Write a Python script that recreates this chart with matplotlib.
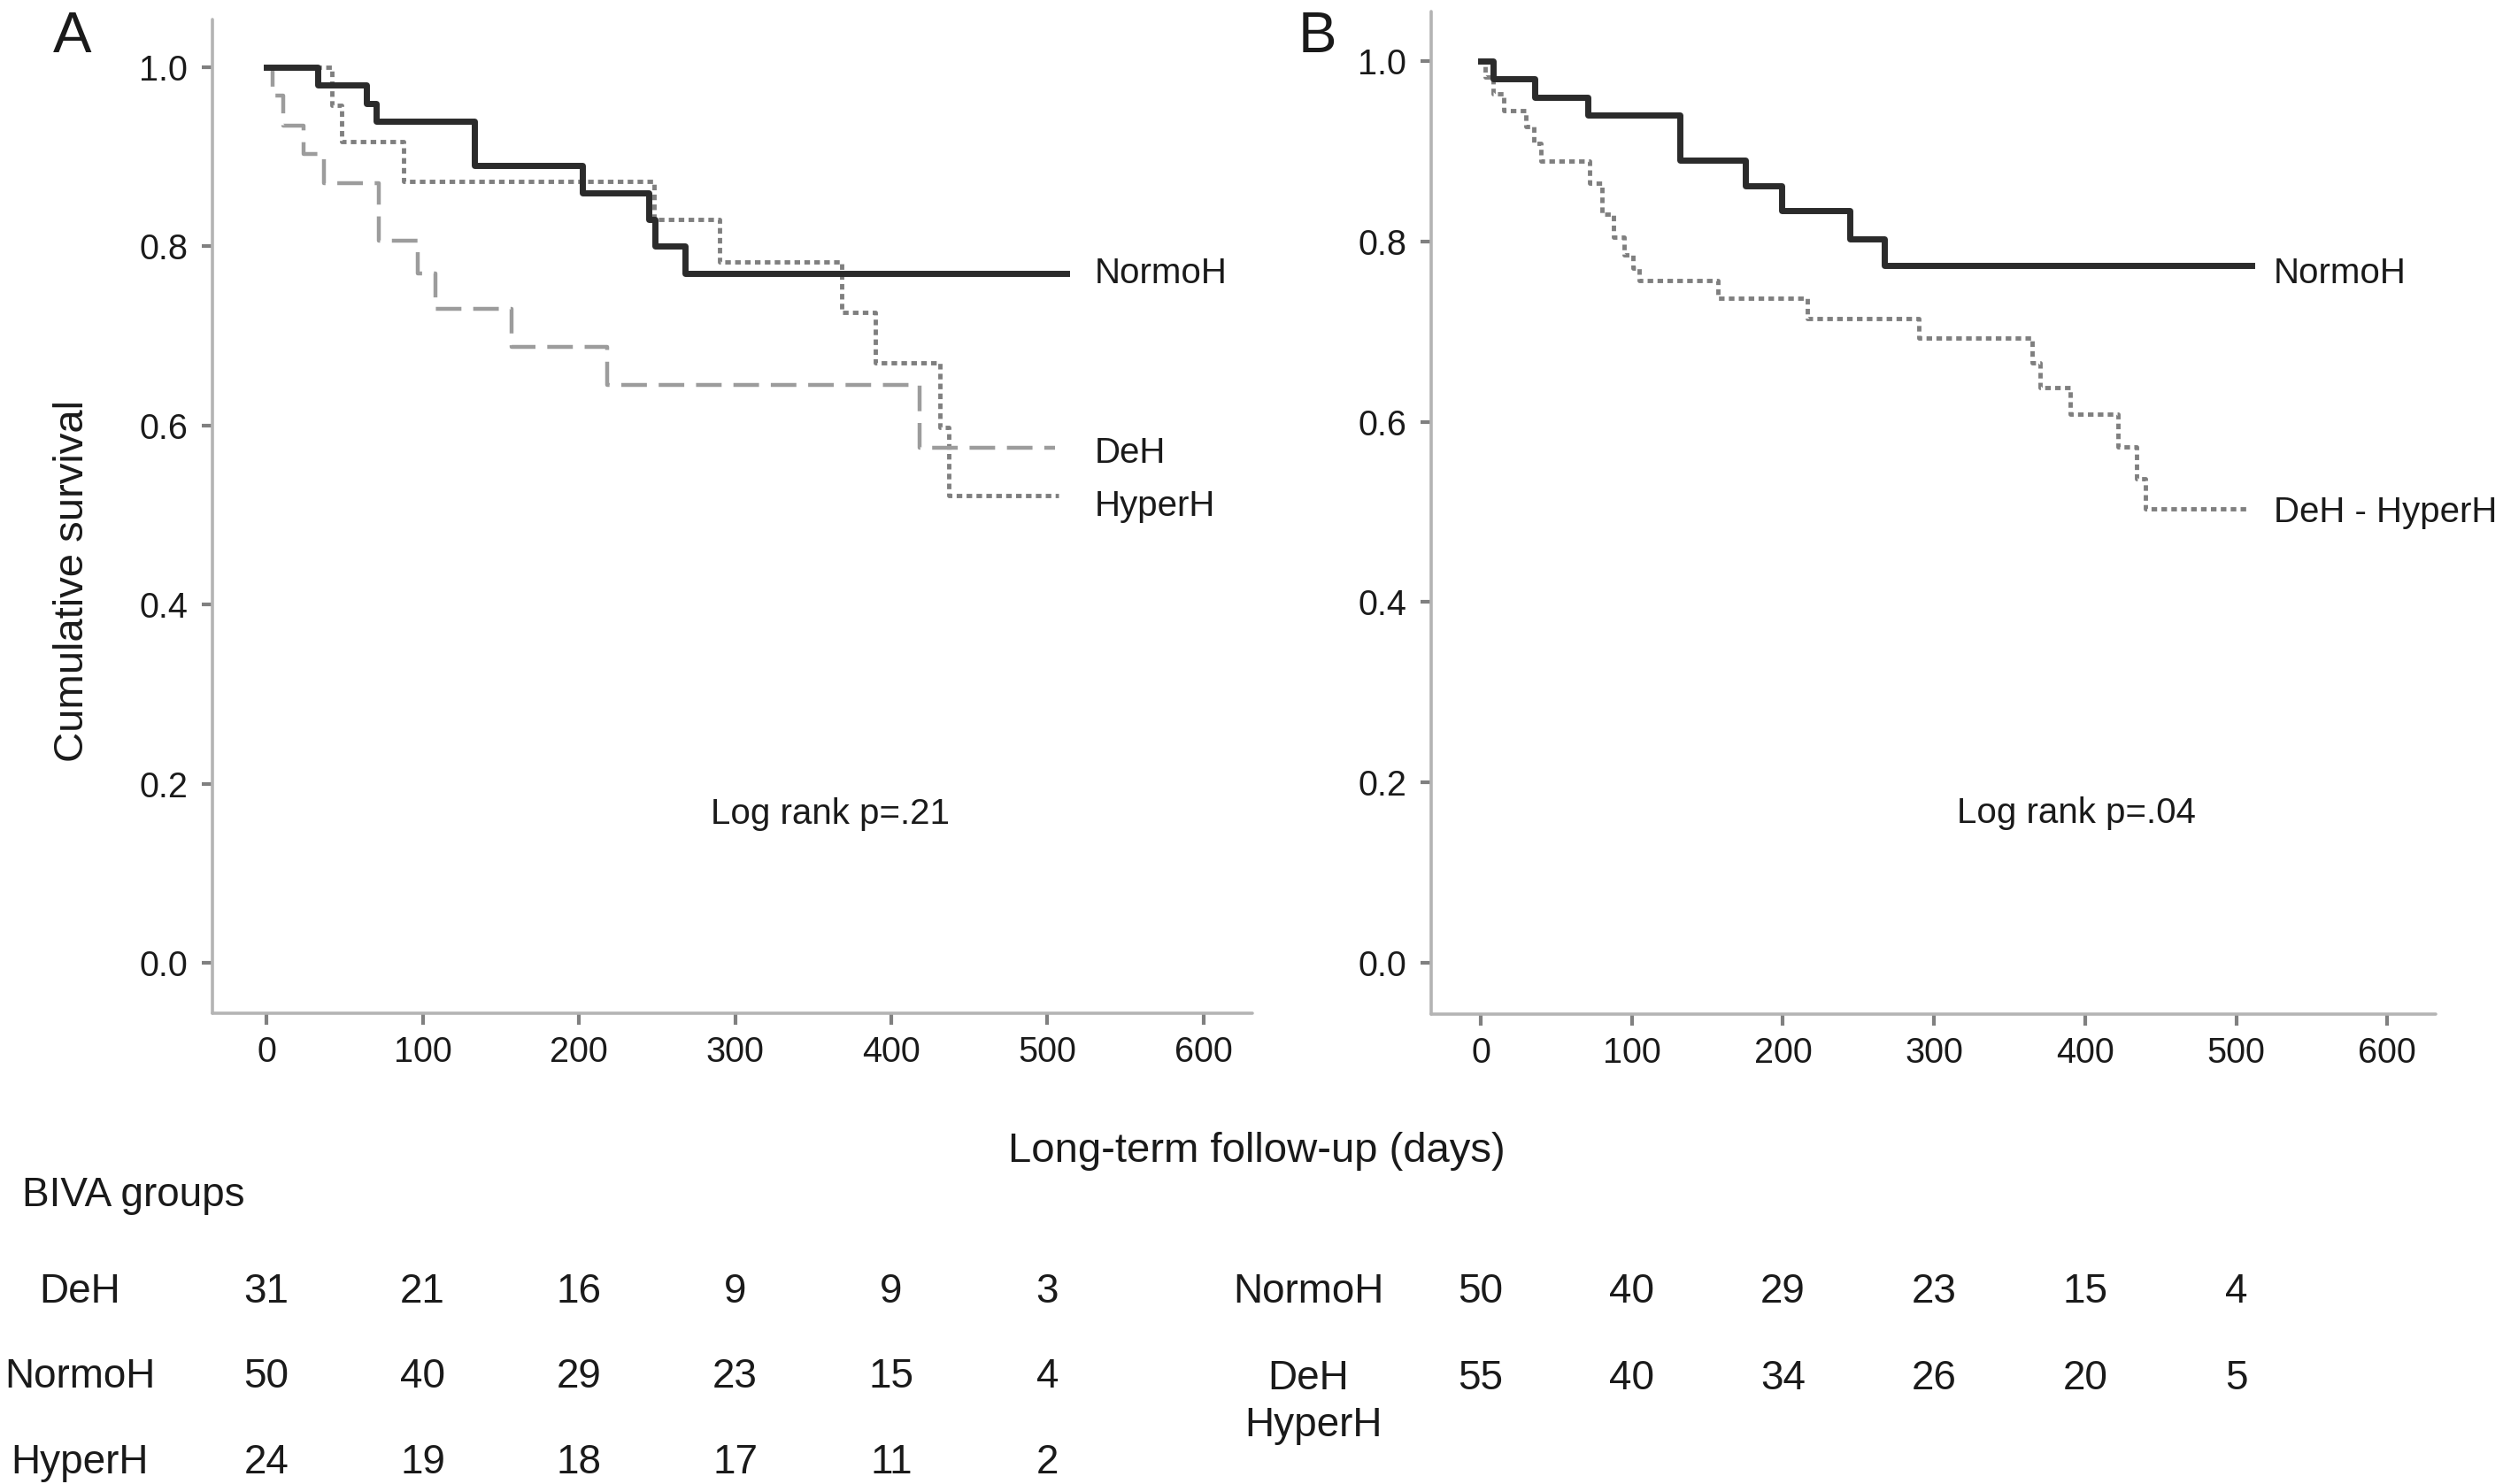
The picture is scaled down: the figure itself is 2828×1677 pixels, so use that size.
import matplotlib
matplotlib.use("Agg")
import matplotlib.pyplot as plt
import matplotlib.transforms as mtransforms

plt.rcParams['font.family'] = ['Liberation Sans', 'DejaVu Sans']

W, H = 2828, 1677  # размер картинки в пикселях

# панель A: кривые Каплана-Мейера (время, выживаемость)
a_normo_t = [0, 33, 64, 70, 133, 202, 245, 249, 268, 512]
a_normo_s = [1.0, 0.98, 0.96, 0.94, 0.89, 0.86, 0.83, 0.80, 0.77, 0.77]
a_deh_t = [0, 4, 11, 24, 37, 72, 97, 108, 157, 218, 418, 505]
a_deh_s = [1.0, 0.968, 0.935, 0.903, 0.871, 0.806, 0.77, 0.73, 0.688, 0.645, 0.575, 0.575]
a_hyper_t = [0, 42, 48, 88, 248, 290, 368, 390, 431, 437, 507]
a_hyper_s = [1.0, 0.958, 0.917, 0.873, 0.83, 0.783, 0.726, 0.67, 0.598, 0.522, 0.522]

# панель B
b_normo_t = [0, 8, 36, 71, 132, 175, 199, 244, 267, 510]
b_normo_s = [1.0, 0.98, 0.96, 0.94, 0.89, 0.862, 0.834, 0.803, 0.773, 0.773]
b_dh_t = [0, 3, 8, 15, 30, 35, 40, 72, 80, 88, 95, 101, 105, 157, 216, 290,
          365, 370, 390, 422, 434, 440, 507]
b_dh_s = [1.0, 0.982, 0.964, 0.945, 0.927, 0.909, 0.889, 0.865, 0.83, 0.805,
          0.785, 0.77, 0.757, 0.737, 0.714, 0.693, 0.665, 0.638, 0.608, 0.572,
          0.537, 0.503, 0.503]

# таблица числа пациентов под риском
risk_times = [0, 100, 200, 300, 400, 500]
a_rows = ['DeH', 'NormoH', 'HyperH']
a_risk = [[31, 21, 16, 9, 9, 3],
          [50, 40, 29, 23, 15, 4],
          [24, 19, 18, 17, 11, 2]]
b_rows = ['NormoH', 'DeH']
b_risk = [[50, 40, 29, 23, 15, 4],
          [55, 40, 34, 26, 20, 5]]

xticks = [0, 100, 200, 300, 400, 500, 600]
yticks = [0.0, 0.2, 0.4, 0.6, 0.8, 1.0]

fig = plt.figure(figsize=(W / 100, H / 100), dpi=100)

def fy(px):  # пиксель по вертикали -> доля фигуры
    return 1 - px / H

def setup(ax, xlim, ylim):
    ax.set_xlim(*xlim)
    ax.set_ylim(*ylim)
    for s in ['top', 'right']:
        ax.spines[s].set_visible(False)
    for s in ['left', 'bottom']:
        ax.spines[s].set_color('#b4b4b4')
        ax.spines[s].set_linewidth(2.6)
        ax.spines[s].set_capstyle('round')
    ax.set_xticks(xticks)
    ax.set_yticks(yticks)
    ax.set_yticklabels(['%.1f' % v for v in yticks])
    ax.tick_params(axis='both', direction='out', length=9, width=3,
                   color='#808080', labelsize=28.5, labelcolor='#1a1a1a')
    ax.tick_params(axis='x', pad=9)
    ax.tick_params(axis='y', pad=11)

axA = fig.add_axes([240 / W, fy(1145), (1415 - 240) / W, (1145 - 22) / H])
axB = fig.add_axes([1617 / W, fy(1146), (2752 - 1617) / W, (1146 - 13) / H])
setup(axA, (-34.6, 631.2), (-0.0563, 1.0534))
setup(axB, (-32.8, 632.1), (-0.0569, 1.055))

axA.step(a_hyper_t, a_hyper_s, where='post', color='#7f7f7f', lw=3.5,
         dashes=(1.3, 1.0), dash_capstyle='butt')
axA.step(a_deh_t, a_deh_s, where='post', color='#9c9c9c', lw=3.2,
         dashes=(6.5, 3))
axA.step(a_normo_t, a_normo_s, where='post', color='#2b2b2b', lw=5)

axB.step(b_dh_t, b_dh_s, where='post', color='#7f7f7f', lw=3.5,
         dashes=(1.3, 1.0), dash_capstyle='butt')
axB.step(b_normo_t, b_normo_s, where='post', color='#2b2b2b', lw=5)

lab = dict(fontsize=29, color='#1a1a1a', va='baseline', ha='left')
axA.text(530, 0.759, 'NormoH', **lab)
axA.text(530, 0.558, 'DeH', **lab)
axA.text(530, 0.499, 'HyperH', **lab)
axB.text(525, 0.754, 'NormoH', **lab)
axB.text(525, 0.489, 'DeH - HyperH', **lab)

axA.text(361, 0.155, 'Log rank p=.21', fontsize=29, color='#1a1a1a',
         ha='center', va='baseline')
axB.text(394, 0.155, 'Log rank p=.04', fontsize=29, color='#1a1a1a',
         ha='center', va='baseline')

# подписи панелей и осей
fig.text(82 / W, fy(59), 'A', fontsize=47, ha='center', va='baseline', color='#1a1a1a')
fig.text(1488 / W, fy(59), 'B', fontsize=47, ha='center', va='baseline', color='#1a1a1a')
fig.text(82 / W, fy(656), 'Cumulative survival', fontsize=34, rotation=90,
         ha='center', va='center', color='#1a1a1a')
fig.text(1420 / W, fy(1313), 'Long-term follow-up (days)', fontsize=34,
         ha='center', va='baseline', color='#1a1a1a')

# таблица под графиками
tsz = 33
fig.text(25 / W, fy(1363), 'BIVA groups', fontsize=tsz, ha='left', va='baseline', color='#1a1a1a')
trA = mtransforms.blended_transform_factory(axA.transData, fig.transFigure)
trB = mtransforms.blended_transform_factory(axB.transData, fig.transFigure)

a_base = [1472, 1568, 1665]
for i in range(len(a_rows)):
    fig.text(90 / W, fy(a_base[i]), a_rows[i], fontsize=tsz, ha='center',
             va='baseline', color='#1a1a1a')
    for j in range(len(risk_times)):
        axA.text(risk_times[j], fy(a_base[i]), str(a_risk[i][j]), transform=trA,
                 fontsize=tsz, ha='center', va='baseline', color='#1a1a1a')

b_base = [1472, 1570]
for i in range(len(b_rows)):
    fig.text(1478 / W, fy(b_base[i]), b_rows[i], fontsize=tsz, ha='center',
             va='baseline', color='#1a1a1a')
    for j in range(len(risk_times)):
        axB.text(risk_times[j], fy(b_base[i]), str(b_risk[i][j]), transform=trB,
                 fontsize=tsz, ha='center', va='baseline', color='#1a1a1a')
fig.text(1484 / W, fy(1623), 'HyperH', fontsize=tsz, ha='center',
         va='baseline', color='#1a1a1a')

fig.savefig('out.png', dpi=100, facecolor='white')
